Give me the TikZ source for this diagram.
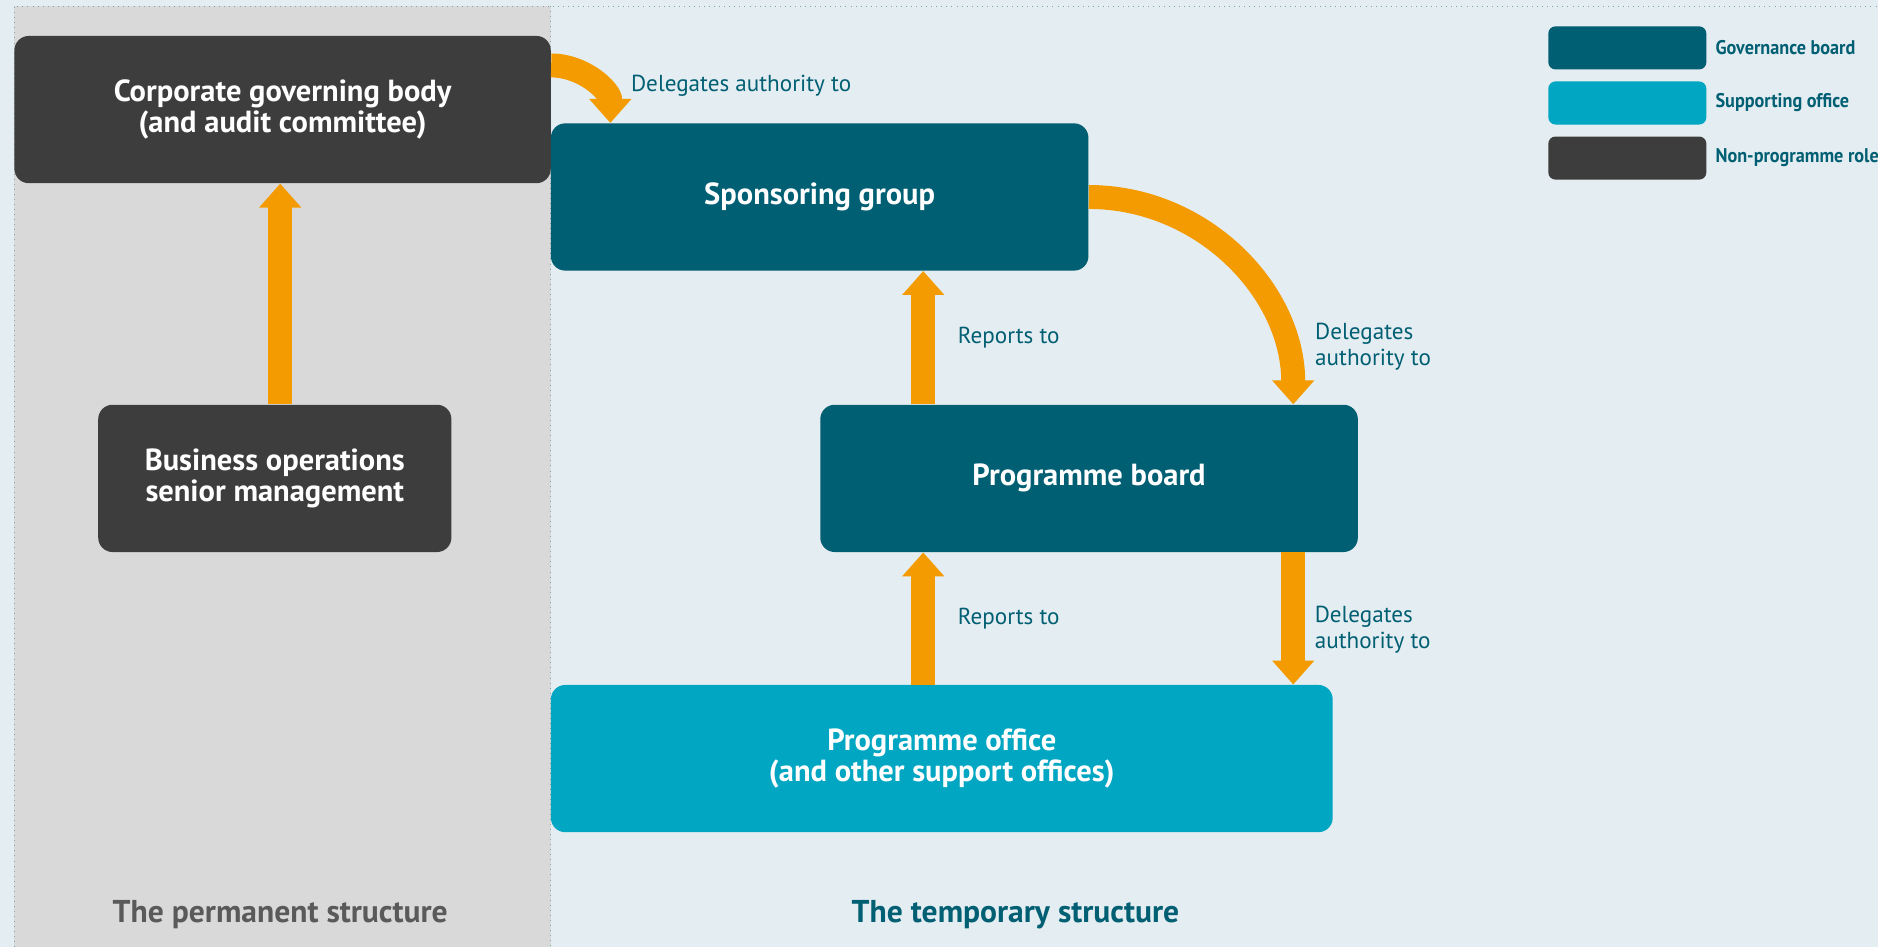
\documentclass[tikz,border=0pt]{standalone}
\usepackage{fontspec}
\setmainfont{PT Sans}
\newfontfamily\keyfont{PT Sans}[FakeStretch=0.92]
\usetikzlibrary{arrows.meta,calc}
\definecolor{bgblue}{HTML}{E4EDF1}
\definecolor{panelgrey}{HTML}{D9D9D9}
\definecolor{bordercol}{HTML}{7FA3AE}
\definecolor{govteal}{HTML}{015F73}
\definecolor{supteal}{HTML}{00A6C2}
\definecolor{nongrey}{HTML}{3D3D3D}
\definecolor{flow}{HTML}{F39B00}
\definecolor{permgrey}{HTML}{5A5A5A}
\tikzset{
	% box styles for the three kinds of role
	role box/.style={rectangle,rounded corners=0.24cm,minimum height=2.46cm,inner sep=0,
		text=white,align=center,font=\fontsize{14.5}{15}\selectfont\bfseries},
	governance box/.style={role box,fill=govteal},
	support box/.style={role box,fill=supteal},
	nonprog box/.style={role box,fill=nongrey},
	% thick orange connectors and their labels
	flow arrow/.style={draw=flow,line width=0.4cm,-{Triangle[width=0.68cm,length=0.4cm]}},
	link label/.style={inner sep=0,text=govteal,align=left,font=\fontsize{11}{12.4}\selectfont},
	% legend
	key box/.style={rectangle,rounded corners=0.12cm,minimum width=2.64cm,minimum height=0.72cm,inner sep=0},
	key label/.style={inner sep=0,anchor=west,text=govteal,font=\fontsize{9.4}{11}\keyfont\bfseries},
	structure label/.style={font=\fontsize{15}{18}\selectfont\bfseries}
}
\begin{document}
\begin{tikzpicture}[x=0.02cm,y=-0.02cm]
	% macro for one legend entry: name, colour, height, text
	\newcommand{\keyentry}[4]{\node[key box,fill=#2](key-#1) at (1359,#3){};
		\node[key label] at ($(key-#1.east)+(7,0)$){#4};}
	
	% background and the two structures
	\fill[bgblue] (0,0) rectangle (1568,791);
	\fill[panelgrey] (12,5) rectangle (460,791);
	\draw[bordercol,dotted,thin] (12,791) -- (12,5) -- (1568,5);
	\draw[bordercol,dotted,thin] (460,5) -- (460,791);
	\useasboundingbox (0,0) rectangle (1568,791);
	
	% boxes
	\node(cgb)[nonprog box,minimum width=8.96cm] at (236,91.5){Corporate governing body\\(and audit committee)};
	\node(bom)[nonprog box,minimum width=5.9cm] at (229.5,399.5){Business operations\\senior management};
	\node(sg)[governance box,minimum width=8.98cm] at (684.5,164.5){Sponsoring group};
	\node(pb)[governance box,minimum width=8.98cm] at (909.5,399.5){Programme board};
	\node(po)[support box,minimum width=13.06cm] at (786.5,633.5){Programme office\\(and other support offices)};
	
	% x positions of the vertical connectors
	\coordinate (rx) at (771,0);
	\coordinate (dx) at (1080,0);
	
	% connectors
	\draw[flow arrow] ($(cgb.south |- bom.north)+(-2,0)$) -- ($(cgb.south)+(-2,0)$);
	\draw[flow arrow] ($(cgb.north east)+(0,25)$) to[out=0,in=90] ($(sg.north west)+(50,0)$);
	\draw[flow arrow] (rx |- pb.north) -- (rx |- sg.south)
		node[midway,link label,anchor=west,xshift=0.38cm]{Reports to};
	\draw[flow arrow] (rx |- po.north) -- (rx |- pb.south)
		node[midway,link label,anchor=west,xshift=0.38cm]{Reports to};
	\draw[flow arrow] (sg.east) to[out=0,in=90] (dx |- pb.north);
	\draw[flow arrow] (dx |- pb.south) -- (dx |- po.north)
		node[midway,link label,anchor=west,xshift=0.16cm,yshift=-0.18cm]{Delegates\\authority to};
	
	\node[link label,anchor=west] at ($(sg.north west)+(67,-31)$){Delegates authority to};
	\node[link label,anchor=west] at ($(dx |- pb.north)+(18,-48)$){Delegates\\authority to};
	
	% structure names
	\node[structure label,text=permgrey] at (234,764){The permanent structure};
	\node[structure label,text=govteal] at (848,764){The temporary structure};
	
	% legend
	\keyentry{gov}{govteal}{40}{Governance board}
	\keyentry{sup}{supteal}{86}{Supporting office}
	\keyentry{non}{nongrey}{132}{Non-programme roles}
\end{tikzpicture}
\end{document}
